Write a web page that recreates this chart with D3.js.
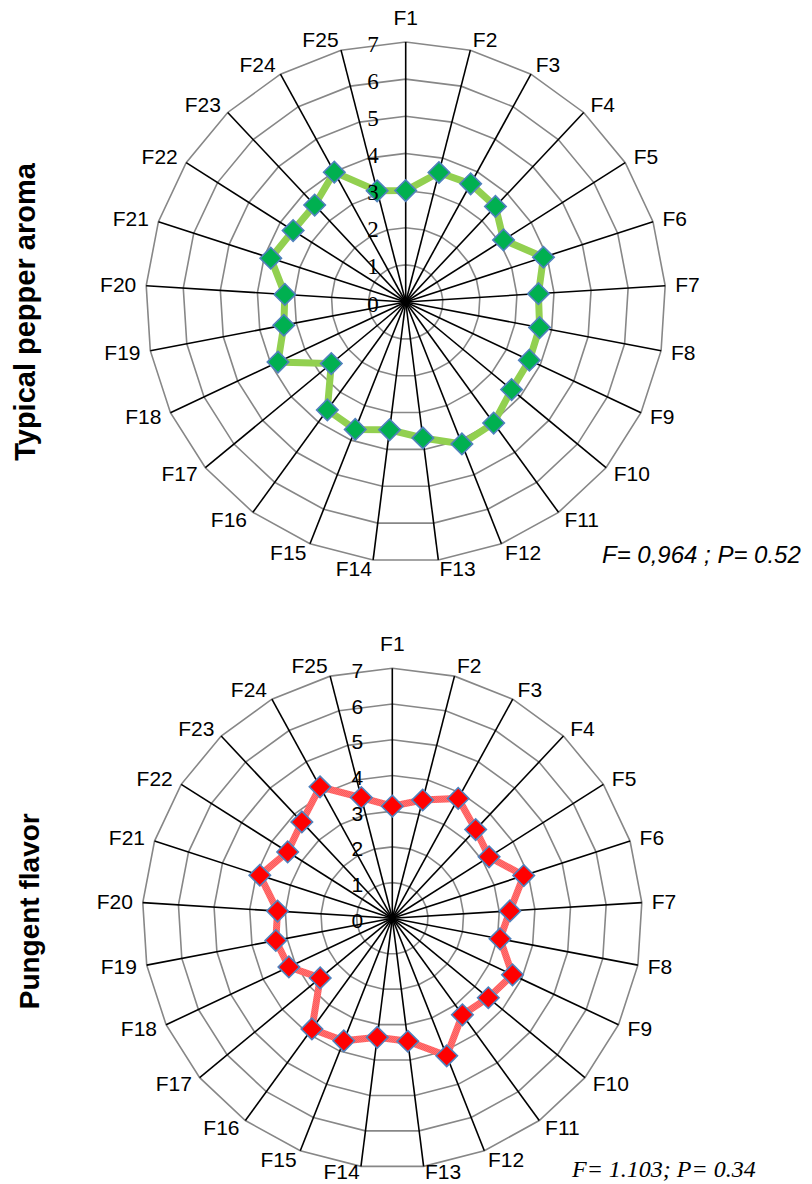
<!DOCTYPE html>
<html>
<head>
<meta charset="utf-8">
<script src="https://cdn.jsdelivr.net/npm/d3@7"></script>
<style>
  body { margin: 0; background: #fff; }
  svg { display: block; }
</style>
</head>
<body>
<div id="root"></div>
<script>
const categories = ["F1", "F2", "F3", "F4", "F5", "F6", "F7", "F8", "F9", "F10",
  "F11", "F12", "F13", "F14", "F15", "F16", "F17", "F18", "F19", "F20",
  "F21", "F22", "F23", "F24", "F25"];

const tickValues = [0, 1, 2, 3, 4, 5, 6, 7];

// Typical pepper aroma
const aromaValues = [3.0, 3.6, 3.63, 3.53, 3.12, 3.9, 3.58, 3.67, 3.68, 3.7,
  4.03, 4.11, 3.69, 3.47, 3.69, 3.59, 2.6, 3.8, 3.34, 3.26,
  3.82, 3.59, 3.58, 3.99, 3.09];

// Pungent flavor
const pungentValues = [3.14, 3.42, 3.83, 3.41, 3.21, 3.87, 3.3, 3.07, 3.72, 3.49,
  3.34, 4.14, 3.47, 3.36, 3.69, 3.83, 2.62, 3.2, 3.32, 3.22,
  3.9, 3.47, 3.7, 4.2, 3.49];

const width = 812;
const height = 1184;

const svg = d3.select("#root")
  .append("svg")
  .attr("width", width)
  .attr("height", height);

const defs = svg.append("defs");
const pat = defs.append("pattern")
  .attr("id", "redHatch")
  .attr("patternUnits", "userSpaceOnUse")
  .attr("width", 2)
  .attr("height", 2);
pat.append("rect").attr("width", 2).attr("height", 2).attr("fill", "#ffb3b3");
pat.append("rect").attr("width", 1).attr("height", 1).attr("fill", "#ff1a1a");
pat.append("rect").attr("x", 1).attr("y", 1).attr("width", 1).attr("height", 1).attr("fill", "#ff1a1a");

function drawRadar(opts) {
  const g = svg.append("g").attr("transform", `translate(${opts.cx},${opts.cy})`);

  const r = d3.scaleLinear().domain([0, 7]).range([0, opts.radius]);
  const angle = d3.scaleBand().domain(categories).range([0, 2 * Math.PI]).paddingInner(0).paddingOuter(0);

  // rings
  const ring = d3.lineRadial()
    .angle(d => angle(d))
    .curve(d3.curveLinearClosed);

  g.selectAll(".ring")
    .data(tickValues.slice(1))
    .join("path")
    .attr("class", "ring")
    .attr("d", v => ring.radius(r(v))(categories))
    .attr("fill", "none")
    .attr("stroke", "#878787")
    .attr("stroke-width", 1.6);

  // spokes
  g.selectAll(".spoke")
    .data(categories)
    .join("line")
    .attr("class", "spoke")
    .attr("x1", 0).attr("y1", 0)
    .attr("x2", d => r(7) * Math.sin(angle(d)))
    .attr("y2", d => -r(7) * Math.cos(angle(d)))
    .attr("stroke", "#000")
    .attr("stroke-width", 1.6);

  // category labels (kept inside the page at the bottom edge)
  const maxY = height - opts.cy - 12;
  g.selectAll(".cat")
    .data(categories)
    .join("text")
    .attr("class", "cat")
    .attr("x", d => (r(7) + 10) * Math.sin(angle(d)))
    .attr("y", (d, i) => {
      const c = Math.cos(angle(d));
      const y = -r(7) * c - (c > 0 ? 11 : 9) * c - (i === 0 ? 14 : 0);
      return Math.min(y, maxY);
    })
    .attr("text-anchor", d => {
      const s = Math.sin(angle(d));
      return s > 0.05 ? "start" : (s < -0.05 ? "end" : "middle");
    })
    .attr("dominant-baseline", "central")
    .attr("font-family", "'Liberation Sans', Arial, sans-serif")
    .attr("font-size", 21)
    .attr("fill", "#000")
    .text(d => d);

  // series line
  const line = d3.lineRadial()
    .angle((d, i) => angle(categories[i]))
    .radius(d => r(d))
    .curve(d3.curveLinearClosed);

  g.append("path")
    .datum(opts.values)
    .attr("d", line)
    .attr("fill", "none")
    .attr("stroke", opts.lineColor)
    .attr("stroke-width", 7)
    .attr("stroke-linejoin", "miter");

  // markers
  g.selectAll(".marker")
    .data(opts.values)
    .join("path")
    .attr("class", "marker")
    .attr("d", d3.symbol(d3.symbolSquare, 230))
    .attr("transform", (d, i) => {
      const a = angle(categories[i]);
      return `translate(${r(d) * Math.sin(a)},${-r(d) * Math.cos(a)}) rotate(45)`;
    })
    .attr("fill", opts.markerColor)
    .attr("stroke", "#4f81bd")
    .attr("stroke-width", 1.6);

  // tick labels
  g.selectAll(".tick")
    .data(tickValues)
    .join("text")
    .attr("class", "tick")
    .attr("x", -opts.tickOffset)
    .attr("y", d => -r(d) + 2)
    .attr("text-anchor", "end")
    .attr("dominant-baseline", "central")
    .attr("font-family", opts.tickFont)
    .attr("font-size", opts.tickSize)
    .attr("fill", "#000")
    .text(d => d);

  // side title
  svg.append("text")
    .attr("transform", `translate(${opts.titleX},${opts.cy + opts.titleDy}) rotate(-90)`)
    .attr("text-anchor", "middle")
    .attr("font-family", "'Liberation Sans', Arial, sans-serif")
    .attr("font-weight", "bold")
    .attr("font-size", opts.titleSize)
    .attr("fill", "#000")
    .text(opts.title);

  svg.append("text")
    .attr("x", opts.statX)
    .attr("y", opts.statY)
    .attr("font-family", opts.statFont)
    .attr("font-style", "italic")
    .attr("font-size", 24)
    .attr("fill", "#000")
    .text(opts.stat);
}

drawRadar({
  cx: 405.7, cy: 302, radius: 260,
  values: aromaValues,
  lineColor: "#92d050",
  markerColor: "#00b050",
  tickFont: "'Liberation Serif', 'Times New Roman', serif",
  tickSize: 23,
  tickOffset: 27,
  title: "Typical pepper aroma",
  titleSize: 29,
  titleX: 35, titleDy: 10,
  stat: "F= 0,964 ; P= 0.52",
  statX: 602, statY: 563,
  statFont: "'Liberation Sans', Arial, sans-serif"
});

drawRadar({
  cx: 392.3, cy: 918.3, radius: 250,
  values: pungentValues,
  lineColor: "url(#redHatch)",
  markerColor: "#ff0000",
  tickFont: "'Liberation Sans', Arial, sans-serif",
  tickSize: 21,
  tickOffset: 29,
  title: "Pungent flavor",
  titleSize: 28,
  titleX: 39, titleDy: -7,
  stat: "F= 1.103; P= 0.34",
  statX: 572, statY: 1177,
  statFont: "'Liberation Serif', 'Times New Roman', serif"
});
</script>
</body>
</html>
